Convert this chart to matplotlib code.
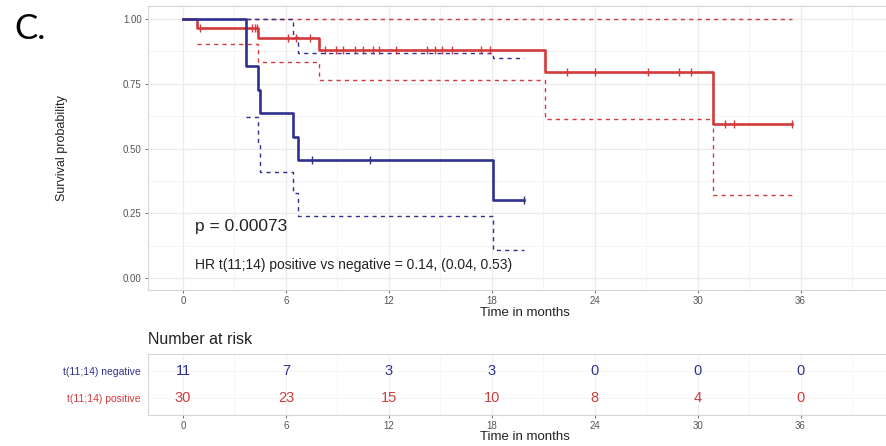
import numpy as np
import matplotlib
matplotlib.use("Agg")
import matplotlib.pyplot as plt

plt.rcParams['font.family'] = ['Liberation Sans', 'DejaVu Sans']

# ---- data ----
neg_times = [0, 3.7, 4.4, 4.5, 6.4, 6.7, 18.1, 19.9]
neg_surv = [1.0, 0.818, 0.727, 0.636, 0.545, 0.455, 0.303, 0.303]
neg_censor = [7.5, 10.9, 19.9]
neg_up_times = [3.7, 6.4, 6.7, 18.1, 19.9]
neg_up = [1.0, 0.93, 0.87, 0.85, 0.85]
neg_lo_times = [3.7, 4.4, 4.5, 6.4, 6.7, 18.1, 19.9]
neg_lo = [0.62, 0.52, 0.41, 0.33, 0.24, 0.11, 0.11]

pos_times = [0, 0.8, 4.4, 7.9, 21.1, 30.9, 35.5]
pos_surv = [1.0, 0.967, 0.925, 0.880, 0.795, 0.596, 0.596]
pos_censor = [1.0, 4.0, 4.2, 4.3, 6.1, 6.6, 7.4, 8.3, 8.9, 9.3, 10.0, 10.5, 11.1,
              11.4, 12.4, 14.2, 14.7, 15.1, 15.7, 17.4, 17.9,
              22.4, 24.0, 27.1, 28.9, 29.6, 31.6, 32.1, 35.5]
pos_up_times = [0.8, 35.5]
pos_up = [1.0, 1.0]
pos_lo_times = [0.8, 4.4, 7.9, 21.1, 30.9, 35.5]
pos_lo = [0.905, 0.835, 0.765, 0.615, 0.32, 0.32]

risk_times = [0, 6, 12, 18, 24, 30, 36]
risk_neg = [11, 7, 3, 3, 0, 0, 0]
risk_pos = [30, 23, 15, 10, 8, 4, 0]
groups = ["t(11;14) negative", "t(11;14) positive"]

BLUE = "#2E318F"
RED = "#D23A3C"
GRID = "#EBEBEB"
TICKC = "#555555"

W, H = 886, 446
fig = plt.figure(figsize=(W / 100, H / 100), dpi=100)

def fx(px):
    return px / W

def fy(py):
    return 1 - py / H

xl = (-2.04, 41.8)
left_px, right_px = 148, 900

ax = fig.add_axes([fx(left_px), fy(290), fx(right_px - left_px), (290 - 6) / H])
ax.set_xlim(*xl)
ax.set_ylim(-0.046, 1.05)

for xv in np.arange(3, 42, 6):
    ax.axvline(xv, color="#F3F3F3", lw=0.6, zorder=0)
for yv in np.arange(0.125, 1.0, 0.25):
    ax.axhline(yv, color="#F3F3F3", lw=0.6, zorder=0)
for xv in np.arange(0, 42, 6):
    ax.axvline(xv, color=GRID, lw=0.9, zorder=0)
for yv in np.arange(0, 1.01, 0.25):
    ax.axhline(yv, color=GRID, lw=0.9, zorder=0)

def surv_at(times, surv, t):
    idx = np.searchsorted(times, t, side='right') - 1
    return np.asarray(surv)[idx]

ax.step(pos_up_times, pos_up, where='post', color=RED, lw=1.0, ls=(0, (3, 3)), zorder=2)
ax.step(pos_lo_times, pos_lo, where='post', color=RED, lw=1.0, ls=(0, (3, 3)), zorder=2)
ax.step(neg_up_times, neg_up, where='post', color=BLUE, lw=1.0, ls=(0, (3, 3)), zorder=2)
ax.step(neg_lo_times, neg_lo, where='post', color=BLUE, lw=1.0, ls=(0, (3, 3)), zorder=2)

ax.step(pos_times, pos_surv, where='post', color=RED, lw=1.9, zorder=3)
ax.step(neg_times, neg_surv, where='post', color=BLUE, lw=1.9, zorder=4)
ax.plot(pos_censor, surv_at(pos_times, pos_surv, pos_censor), ls='none', marker='|',
        ms=6, mew=1.0, color=RED, zorder=3)
ax.plot(neg_censor, surv_at(neg_times, neg_surv, neg_censor), ls='none', marker='|',
        ms=6, mew=1.0, color=BLUE, zorder=4)

ax.text(0.7, 0.20, "p = 0.00073", fontsize=12.5, va='center', ha='left', color='#222222')
ax.text(0.7, 0.05, "HR t(11;14) positive vs negative = 0.14, (0.04, 0.53)",
        fontsize=10, va='center', ha='left', color='#222222')

ax.set_xticks(risk_times)
ax.set_xticklabels([str(t) for t in risk_times])
ax.set_yticks([0, 0.25, 0.5, 0.75, 1.0])
ax.set_yticklabels(["0.00", "0.25", "0.50", "0.75", "1.00"])
ax.tick_params(axis='both', labelsize=7, colors=TICKC, length=2.5, width=0.6, pad=2)
for s in ax.spines.values():
    s.set_color("#D6D6D6")
    s.set_linewidth(0.8)
ax.spines['right'].set_visible(False)
fig.text(fx(525), fy(313), "Time in months", fontsize=9.5, ha='center', va='center', color='#222222')
fig.text(fx(62), fy(148), "Survival probability", fontsize=9, rotation=90, ha='center', va='center', color='#222222')
fig.text(fx(14), fy(29), "C.", fontsize=25, ha='left', va='center', family=['Lato', 'DejaVu Sans'])

# ---- risk table ----
tb = fig.add_axes([fx(left_px), fy(415), fx(right_px - left_px), (415 - 354) / H])
tb.set_xlim(*xl)
tb.set_ylim(-0.59, 1.59)
for xv in np.arange(3, 42, 6):
    tb.axvline(xv, color="#F5F5F5", lw=0.6, zorder=0)
for xv in np.arange(0, 42, 6):
    tb.axvline(xv, color="#F0F0F0", lw=0.9, zorder=0)
for yv in [0, 1]:
    tb.axhline(yv, color="#F5F5F5", lw=0.6, zorder=0)
for t, n in zip(risk_times, risk_neg):
    tb.text(t, 1, str(n), color=BLUE, fontsize=10.5, ha='center', va='center')
for t, n in zip(risk_times, risk_pos):
    tb.text(t, 0, str(n), color=RED, fontsize=10.5, ha='center', va='center')
tb.set_yticks([1, 0])
tb.set_yticklabels(groups)
for lab, c in zip(tb.get_yticklabels(), [BLUE, RED]):
    lab.set_color(c)
tb.tick_params(axis='y', labelsize=7.5, length=0, pad=5)
tb.set_xticks(risk_times)
tb.set_xticklabels([str(t) for t in risk_times])
tb.tick_params(axis='x', labelsize=7, colors=TICKC, length=2.5, width=0.6, pad=2)
for s in tb.spines.values():
    s.set_color("#D6D6D6")
    s.set_linewidth(0.8)
tb.spines['right'].set_visible(False)
fig.text(fx(148), fy(340), "Number at risk", fontsize=11.5, ha='left', va='center', color='#222222')
fig.text(fx(525), fy(437), "Time in months", fontsize=9.5, ha='center', va='center', color='#222222')

fig.savefig("out.png", dpi=100)
